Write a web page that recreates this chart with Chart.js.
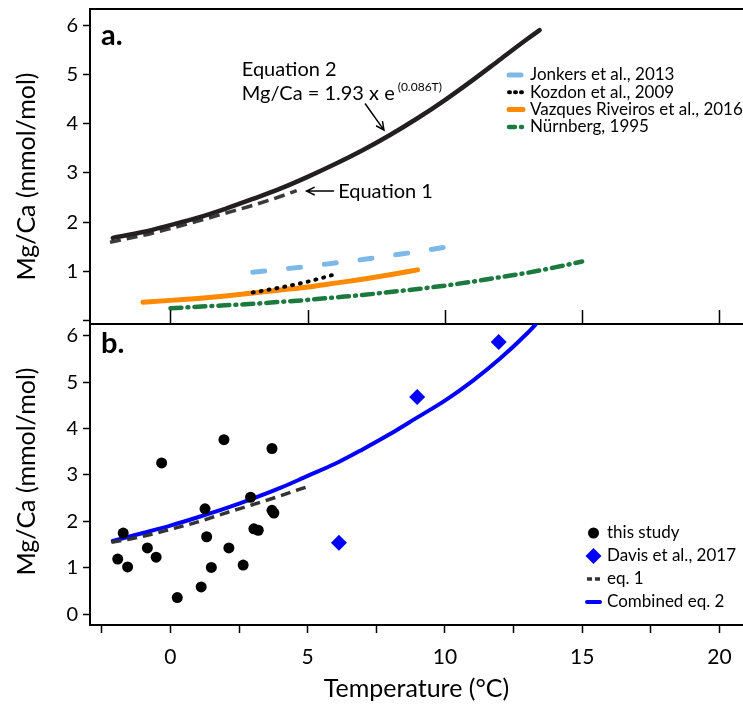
<!DOCTYPE html>
<html>
<head>
<meta charset="utf-8">
<script src="https://cdn.jsdelivr.net/npm/chart.js@4.4.1/dist/chart.umd.min.js"></script>
<style>
  html, body { margin: 0; padding: 0; background: #fff; }
  #wrap { position: relative; width: 743px; height: 707px; }
  #wrap canvas { position: absolute; left: 0; top: 0; }
</style>
</head>
<body>
<div id="wrap">
  <canvas id="chartA" width="743" height="707"></canvas>
  <canvas id="chartB" width="743" height="707"></canvas>
</div>
<script>
// ---- panel a: published calibrations ----
const eq2TempA = [-2.1, -1, 0, 1, 2, 3, 4, 5, 6, 7, 8, 9, 10, 11, 12, 13, 13.45];
const eq2MgCaA = [1.68, 1.80, 1.94, 2.09, 2.27, 2.47, 2.68, 2.92, 3.18, 3.46, 3.77, 4.11, 4.48, 4.88, 5.30, 5.72, 5.90];
const eq1TempA = [-2.2, -1, 0, 1, 2, 3, 4, 4.6];
const eq1MgCaA = [1.59, 1.73, 1.87, 2.02, 2.18, 2.34, 2.52, 2.64];
const jonkersTemp = [3, 4, 5, 6, 7, 8, 9, 10];
const jonkersMgCa = [0.98, 1.04, 1.10, 1.17, 1.24, 1.32, 1.40, 1.49];
const kozdonTemp = [3, 4, 5, 6];
const kozdonMgCa = [0.57, 0.67, 0.79, 0.94];
const vazquesTemp = [-1, 0, 1, 2, 3, 4, 5, 6, 7, 8, 9];
const vazquesMgCa = [0.37, 0.41, 0.45, 0.50, 0.56, 0.62, 0.68, 0.76, 0.84, 0.93, 1.03];
const nurnbergTemp = [0, 1, 2, 3, 4, 5, 6, 7, 8, 9, 10, 11, 12, 13, 14, 15];
const nurnbergMgCa = [0.25, 0.28, 0.31, 0.34, 0.38, 0.42, 0.47, 0.52, 0.58, 0.64, 0.71, 0.79, 0.88, 0.97, 1.08, 1.20];

// ---- panel b: this study, Davis et al. and the fits ----
const studyTemp = [-0.32, 1.95, 3.70, 2.92, 1.26, 3.70, 3.77, -1.72, 3.04, 3.20, 1.32, -0.84, -0.52, -1.92, -1.56, 2.13, 1.49, 2.65, 1.12, 0.25];
const studyMgCa = [3.26, 3.76, 3.57, 2.52, 2.27, 2.24, 2.18, 1.75, 1.84, 1.81, 1.67, 1.43, 1.23, 1.19, 1.02, 1.43, 1.01, 1.06, 0.59, 0.36];
const davisTemp = [6.14, 8.99, 11.96];
const davisMgCa = [1.54, 4.68, 5.86];
const eq1TempB = [-2.15, -1, 0, 1, 2, 3, 4, 5];
const eq1MgCaB = [1.55, 1.68, 1.83, 1.99, 2.18, 2.36, 2.55, 2.75];
const eq2TempB = [-2.1, -1, 0, 1, 2, 3, 4, 5, 6, 7, 8, 9, 10, 11, 12, 13, 13.4];
const eq2MgCaB = [1.58, 1.75, 1.91, 2.09, 2.28, 2.49, 2.72, 2.98, 3.24, 3.55, 3.88, 4.24, 4.60, 5.02, 5.50, 6.05, 6.30];

// ---- ticks ----
const xTicks = [-2.5, 0, 2.5, 5, 7.5, 10, 12.5, 15, 17.5, 20];
const xMajor = [0, 5, 10, 15, 20];
const yTicksA = [0, 1, 2, 3, 4, 5, 6];
const yTicksB = [0, 1, 2, 3, 4, 5, 6];

const FONT = "Lato, 'Liberation Sans', sans-serif";
const pts = (xs, ys) => xs.map((x, i) => ({ x, y: ys[i] }));

function lineSet(label, xs, ys, style) {
  return Object.assign({
    label, data: pts(xs, ys), showLine: true, pointRadius: 0,
    fill: false, borderCapStyle: 'butt', cubicInterpolationMode: 'monotone'
  }, style);
}

function strokeSample(ctx, ds, x1, x2, y) {
  ctx.save();
  ctx.strokeStyle = ds.borderColor;
  ctx.lineWidth = ds.borderWidth;
  ctx.lineCap = ds.borderCapStyle || 'butt';
  ctx.setLineDash(ds.legendDash || ds.borderDash || []);
  ctx.beginPath();
  ctx.moveTo(x1, y);
  ctx.lineTo(x2, y);
  ctx.stroke();
  ctx.restore();
}

function arrow(ctx, x1, y1, x2, y2) {
  const ang = Math.atan2(y2 - y1, x2 - x1), h = 9;
  ctx.beginPath();
  ctx.moveTo(x1, y1); ctx.lineTo(x2, y2);
  ctx.moveTo(x2 - h * Math.cos(ang - 0.45), y2 - h * Math.sin(ang - 0.45));
  ctx.lineTo(x2, y2);
  ctx.lineTo(x2 - h * Math.cos(ang + 0.45), y2 - h * Math.sin(ang + 0.45));
  ctx.stroke();
}

// frame, inner ticks, panel letter, y title, legend, notes
const decor = {
  id: 'decor',
  afterDatasetsDraw(chart, args, o) {
    const { ctx, chartArea: a, scales: { x, y } } = chart;
    ctx.save();
    ctx.strokeStyle = '#000';
    ctx.lineWidth = 2;
    ctx.beginPath();
    if (o.topLine) { ctx.moveTo(a.left - 1, a.top); ctx.lineTo(a.right, a.top); }
    ctx.moveTo(a.left, a.top); ctx.lineTo(a.left, a.bottom + 1);
    ctx.moveTo(a.left - 1, a.bottom); ctx.lineTo(a.right, a.bottom);
    ctx.stroke();

    if (o.innerTicks) {
      ctx.lineWidth = 1.5;
      ctx.beginPath();
      xMajor.forEach(v => {
        const px = Math.round(x.getPixelForValue(v)) + 0.5;
        ctx.moveTo(px, a.bottom); ctx.lineTo(px, a.bottom - 14);
      });
      ctx.stroke();
    }

    ctx.fillStyle = '#000';
    // panel letter
    ctx.font = 'bold 29px ' + FONT;
    ctx.textAlign = 'left';
    ctx.textBaseline = 'alphabetic';
    ctx.fillText(o.letter, a.left + 11, o.letterY);

    // y title
    ctx.save();
    ctx.translate(27, (a.top + a.bottom) / 2 + o.titleShift);
    ctx.rotate(-Math.PI / 2);
    ctx.font = '25px ' + FONT;
    ctx.textAlign = 'center';
    ctx.textBaseline = 'middle';
    ctx.fillText('Mg/Ca (mmol/mol)', 0, 0);
    ctx.restore();

    // legend
    const L = o.legend;
    ctx.font = L.size + 'px ' + FONT;
    ctx.textBaseline = 'middle';
    chart.data.datasets.forEach((ds, i) => {
      if (ds.legendRow === undefined) return;
      const yy = L.y + ds.legendRow * L.step;
      if (ds.showLine) {
        strokeSample(ctx, ds, L.x1, L.x2, yy);
      } else {
        ctx.save();
        ctx.fillStyle = ds.backgroundColor;
        ctx.strokeStyle = ds.borderColor;
        Chart.helpers.drawPoint(ctx, { pointStyle: ds.pointStyle, radius: ds.pointRadius, borderWidth: ds.borderWidth, rotation: 0 }, (L.x1 + L.x2) / 2, yy);
        ctx.restore();
      }
      ctx.fillStyle = '#000';
      ctx.fillText(ds.label, L.tx, yy);
    });

    // notes
    if (o.notes) {
      ctx.font = '20px ' + FONT;
      ctx.textAlign = 'left';
      ctx.textBaseline = 'middle';
      ctx.fillText('Equation 2', x.getPixelForValue(2.6), y.getPixelForValue(5.09));
      const mx = x.getPixelForValue(2.6), my = y.getPixelForValue(4.62);
      const main = 'Mg/Ca = 1.93 x e';
      ctx.fillText(main, mx, my);
      const w = ctx.measureText(main).width;
      ctx.font = '12px ' + FONT;
      ctx.fillText('(0.086T)', mx + w + 3, my - 6);
      ctx.font = '20px ' + FONT;
      ctx.fillText('Equation 1', x.getPixelForValue(6.11), y.getPixelForValue(2.63));
      ctx.lineWidth = 1.5;
      arrow(ctx, x.getPixelForValue(7.09), y.getPixelForValue(4.41), x.getPixelForValue(7.78), y.getPixelForValue(3.87));
      arrow(ctx, x.getPixelForValue(5.96), y.getPixelForValue(2.63), x.getPixelForValue(4.96), y.getPixelForValue(2.63));
    }
    ctx.restore();
  }
};

function yScale(min, max, ticks, labelZero) {
  return {
    type: 'linear', min, max,
    afterFit(s) { s.width = 90; s.paddingTop = 0; s.paddingBottom = 0; },
    afterBuildTicks(s) { s.ticks = ticks.map(v => ({ value: v })); },
    grid: { drawOnChartArea: false, tickLength: 7, tickColor: '#000', tickWidth: 1.5 },
    border: { display: false },
    ticks: {
      color: '#000', padding: 5, font: { family: FONT, size: 20 },
      callback: v => (v === 0 && !labelZero) ? '' : String(v)
    }
  };
}

new Chart(document.getElementById('chartA'), {
  type: 'scatter',
  data: {
    datasets: [
      lineSet('Equation 2', eq2TempA, eq2MgCaA, { borderColor: '#231f20', borderWidth: 4.5, borderCapStyle: 'round' }),
      lineSet('Equation 1', eq1TempA, eq1MgCaA, { borderColor: '#3a3a3a', borderWidth: 3.5, borderDash: [11, 6] }),
      lineSet('Kozdon et al., 2009', kozdonTemp, kozdonMgCa, { borderColor: '#000', borderWidth: 4, borderDash: [1, 7], borderCapStyle: 'round', legendDash: [1, 5], legendRow: 1 }),
      lineSet('Jonkers et al., 2013', jonkersTemp, jonkersMgCa, { borderColor: '#7db9e8', borderWidth: 5, borderDash: [12, 24], borderCapStyle: 'round', legendRow: 0 }),
      lineSet('Vazques Riveiros et al., 2016', vazquesTemp, vazquesMgCa, { borderColor: '#ff8a00', borderWidth: 5, borderCapStyle: 'round', legendRow: 2 }),
      lineSet('Nürnberg, 1995', nurnbergTemp, nurnbergMgCa, { borderColor: '#1c7a3e', borderWidth: 4.5, borderDash: [11, 6, 1, 6], borderCapStyle: 'round', legendDash: [6, 6, 1, 6], legendRow: 3 })
    ]
  },
  options: {
    responsive: false, animation: false,
    layout: { autoPadding: false, padding: { top: 9, left: 0, right: 0, bottom: 383 } },
    plugins: {
      legend: { display: false }, tooltip: { enabled: false },
      decor: {
        topLine: true, innerTicks: true, notes: true,
        letter: 'a.', letterY: 45, titleShift: 10,
        legend: { x1: 509, x2: 523, tx: 530, y: 75, step: 17.3, size: 17 }
      }
    },
    scales: {
      x: { type: 'linear', display: false, min: -2.93, max: 20.86 },
      y: yScale(-0.07, 6.33, yTicksA, false)
    }
  },
  plugins: [decor]
});

new Chart(document.getElementById('chartB'), {
  type: 'scatter',
  data: {
    datasets: [
      { label: 'this study', data: pts(studyTemp, studyMgCa), pointStyle: 'circle', pointRadius: 5.5, borderWidth: 0, backgroundColor: '#000', borderColor: '#000', legendRow: 0 },
      { label: 'Davis et al., 2017', data: pts(davisTemp, davisMgCa), pointStyle: 'rectRot', pointRadius: 8, borderWidth: 0, backgroundColor: '#0000ff', borderColor: '#0000ff', legendRow: 1 },
      lineSet('eq. 1', eq1TempB, eq1MgCaB, { borderColor: '#333333', borderWidth: 3.5, borderDash: [10, 6], legendDash: [5, 3], legendRow: 2 }),
      lineSet('Combined eq. 2', eq2TempB, eq2MgCaB, { borderColor: '#0000ff', borderWidth: 4, borderCapStyle: 'round', legendRow: 3 })
    ]
  },
  options: {
    responsive: false, animation: false,
    layout: { autoPadding: false, padding: { top: 324, left: 0, right: 0, bottom: 0 } },
    plugins: {
      legend: { display: false }, tooltip: { enabled: false },
      decor: {
        topLine: false, innerTicks: false, notes: false,
        letter: 'b.', letterY: 353, titleShift: -3,
        legend: { x1: 587, x2: 600, tx: 607, y: 533, step: 23, size: 17 }
      }
    },
    scales: {
      x: {
        type: 'linear', min: -2.93, max: 20.86,
        afterFit(s) { s.height = 82; s.paddingLeft = 0; s.paddingRight = 0; },
        afterBuildTicks(s) { s.ticks = xTicks.map(v => ({ value: v })); },
        grid: { drawOnChartArea: false, tickLength: 8, tickColor: '#000', tickWidth: 1.5 },
        border: { display: false },
        ticks: {
          autoSkip: false, maxRotation: 0, color: '#000', padding: 12,
          font: { family: FONT, size: 21 },
          callback: v => xMajor.includes(v) ? String(v) : ''
        },
        title: {
          display: true, text: 'Temperature (°C)', color: '#000',
          font: { family: FONT, size: 25 }, padding: { top: 0, bottom: 3 }
        }
      },
      y: yScale(-0.23, 6.25, yTicksB, true)
    }
  },
  plugins: [decor]
});
</script>
</body>
</html>
